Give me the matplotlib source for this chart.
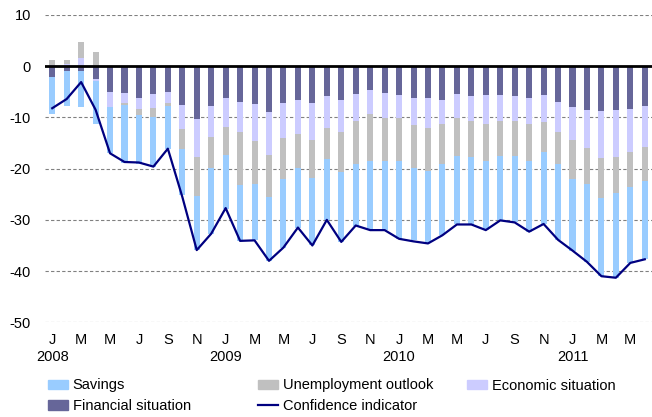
import numpy as np
import matplotlib.pyplot as plt
from matplotlib.patches import Patch
from matplotlib.lines import Line2D

plt.rcParams['font.family'] = ['Liberation Sans', 'DejaVu Sans']
plt.rcParams['font.size'] = 10.5
plt.rcParams['axes.unicode_minus'] = False

# monthly, Jan 2008 - Jun 2011
months = list('JFMAMJJASOND') * 3 + list('JFMAMJ')
years = ['2008', '2009', '2010', '2011']

financial = [-2.2, -1.0, -0.9, -2.4, -5.1, -5.2, -6.2, -5.4, -5.0, -7.6, -10.3, -7.8,
             -6.2, -6.9, -7.3, -9.0, -7.1, -6.5, -7.1, -5.9, -6.5, -5.4, -4.7, -5.2,
             -5.6, -6.3, -6.3, -6.5, -5.5, -5.9, -5.7, -5.7, -5.9, -6.2, -5.7, -6.9,
             -8.0, -8.5, -8.8, -8.6, -8.4, -7.8]
economic = [0.3, 0.5, 1.6, -0.5, -2.9, -1.9, -2.2, -2.8, -2.1, -4.6, -7.5, -6.1,
            -5.6, -6.0, -7.3, -8.3, -7.0, -6.8, -7.4, -6.2, -6.4, -5.2, -4.6, -4.9,
            -4.6, -5.1, -5.7, -4.7, -4.7, -4.7, -5.5, -4.9, -4.7, -5.1, -5.2, -6.0,
            -6.5, -7.4, -9.1, -9.2, -8.3, -8.0]
unemployment = [1.0, 0.8, 3.2, 2.7, 0.0, -0.5, -1.1, -1.7, -0.7, -3.9, -7.5, -6.0,
                -5.5, -10.3, -8.3, -8.3, -7.9, -6.6, -7.3, -6.1, -7.7, -8.4, -9.3, -8.5,
                -8.4, -8.4, -8.4, -7.9, -7.3, -7.2, -7.4, -6.9, -6.9, -7.3, -5.9, -6.2,
                -7.5, -7.1, -7.8, -6.9, -6.9, -6.6]
savings = [-7.1, -6.8, -7.0, -8.4, -9.0, -11.2, -9.5, -9.7, -8.3, -9.1, -10.6, -12.8,
           -10.5, -10.9, -11.1, -12.4, -13.4, -11.7, -13.2, -11.8, -13.7, -12.1, -13.4, -13.4,
           -15.1, -14.2, -14.2, -13.9, -13.4, -13.2, -13.4, -12.6, -13.0, -13.7, -14.0, -14.9,
           -14.1, -15.2, -15.3, -16.6, -14.8, -15.3]
confidence = [-8.2, -6.4, -3.1, -8.5, -17.0, -18.7, -18.8, -19.6, -16.1, -25.5, -35.9, -32.7,
              -27.7, -34.1, -34.0, -38.0, -35.4, -31.5, -35.0, -30.0, -34.3, -31.1, -32.0, -32.0,
              -33.7, -34.2, -34.6, -33.0, -30.9, -30.9, -32.0, -30.1, -30.5, -32.3, -30.8, -33.9,
              -36.0, -38.2, -41.0, -41.3, -38.4, -37.7]

c_sav, c_unemp, c_econ, c_fin = '#99CCFF', '#C0C0C0', '#CCCCFF', '#666699'
c_line = '#000080'

fig = plt.figure(figsize=(6.52, 4.17), dpi=100)
ax = fig.add_axes([45/652, 1 - 322.3/417, 607/652, 307.3/417])

x = np.arange(len(months))
pos = np.zeros(len(x))
neg = np.zeros(len(x))
# stacked from zero outwards: financial, economic, unemployment, savings
for vals, col in [(financial, c_fin), (economic, c_econ),
                  (unemployment, c_unemp), (savings, c_sav)]:
    v = np.array(vals)
    bottom = np.where(v >= 0, pos, neg)
    ax.bar(x, v, 0.42, bottom=bottom, color=col, zorder=2)
    pos += np.clip(v, 0, None)
    neg += np.clip(v, None, 0)

ax.plot(x, confidence, color=c_line, lw=1.6, zorder=4)
ax.axhline(0, color='black', lw=2, zorder=3)

ax.set_xlim(-0.5, 41.5)
ax.set_ylim(-50, 10)
ax.set_yticks(range(-50, 11, 10))
ax.yaxis.grid(True, linestyle=(0, (3, 2)), color='#808080', lw=0.8, zorder=0)
for s in ax.spines.values():
    s.set_visible(False)
ax.tick_params(length=0)
ax.tick_params(axis='y', pad=10)
ax.tick_params(axis='x', pad=8)
ax.set_xticks(x[::2])
ax.set_xticklabels(months[::2])
for i, yr in enumerate(years):
    ax.text(12 * i, -0.113, yr, transform=ax.get_xaxis_transform(),
            ha='center', va='center')

# legend in three columns placed by hand
kw = dict(frameon=False, borderpad=0, borderaxespad=0, handlelength=1.4,
          handleheight=0.65, handletextpad=0.3, labelspacing=0.45, loc='upper left')
top = 1 - 378.5/417
fig.legend([Patch(color=c_sav), Patch(color=c_fin)],
           ['Savings', 'Financial situation'],
           bbox_to_anchor=(48/652, top), **kw)
fig.legend([Patch(color=c_unemp), Line2D([], [], color=c_line, lw=1.6)],
           ['Unemployment outlook', 'Confidence indicator'],
           bbox_to_anchor=(258/652, top), **kw)
fig.legend([Patch(color=c_econ)], ['Economic situation'],
           bbox_to_anchor=(467/652, top), **kw)

fig.savefig('out.png', dpi=100)
